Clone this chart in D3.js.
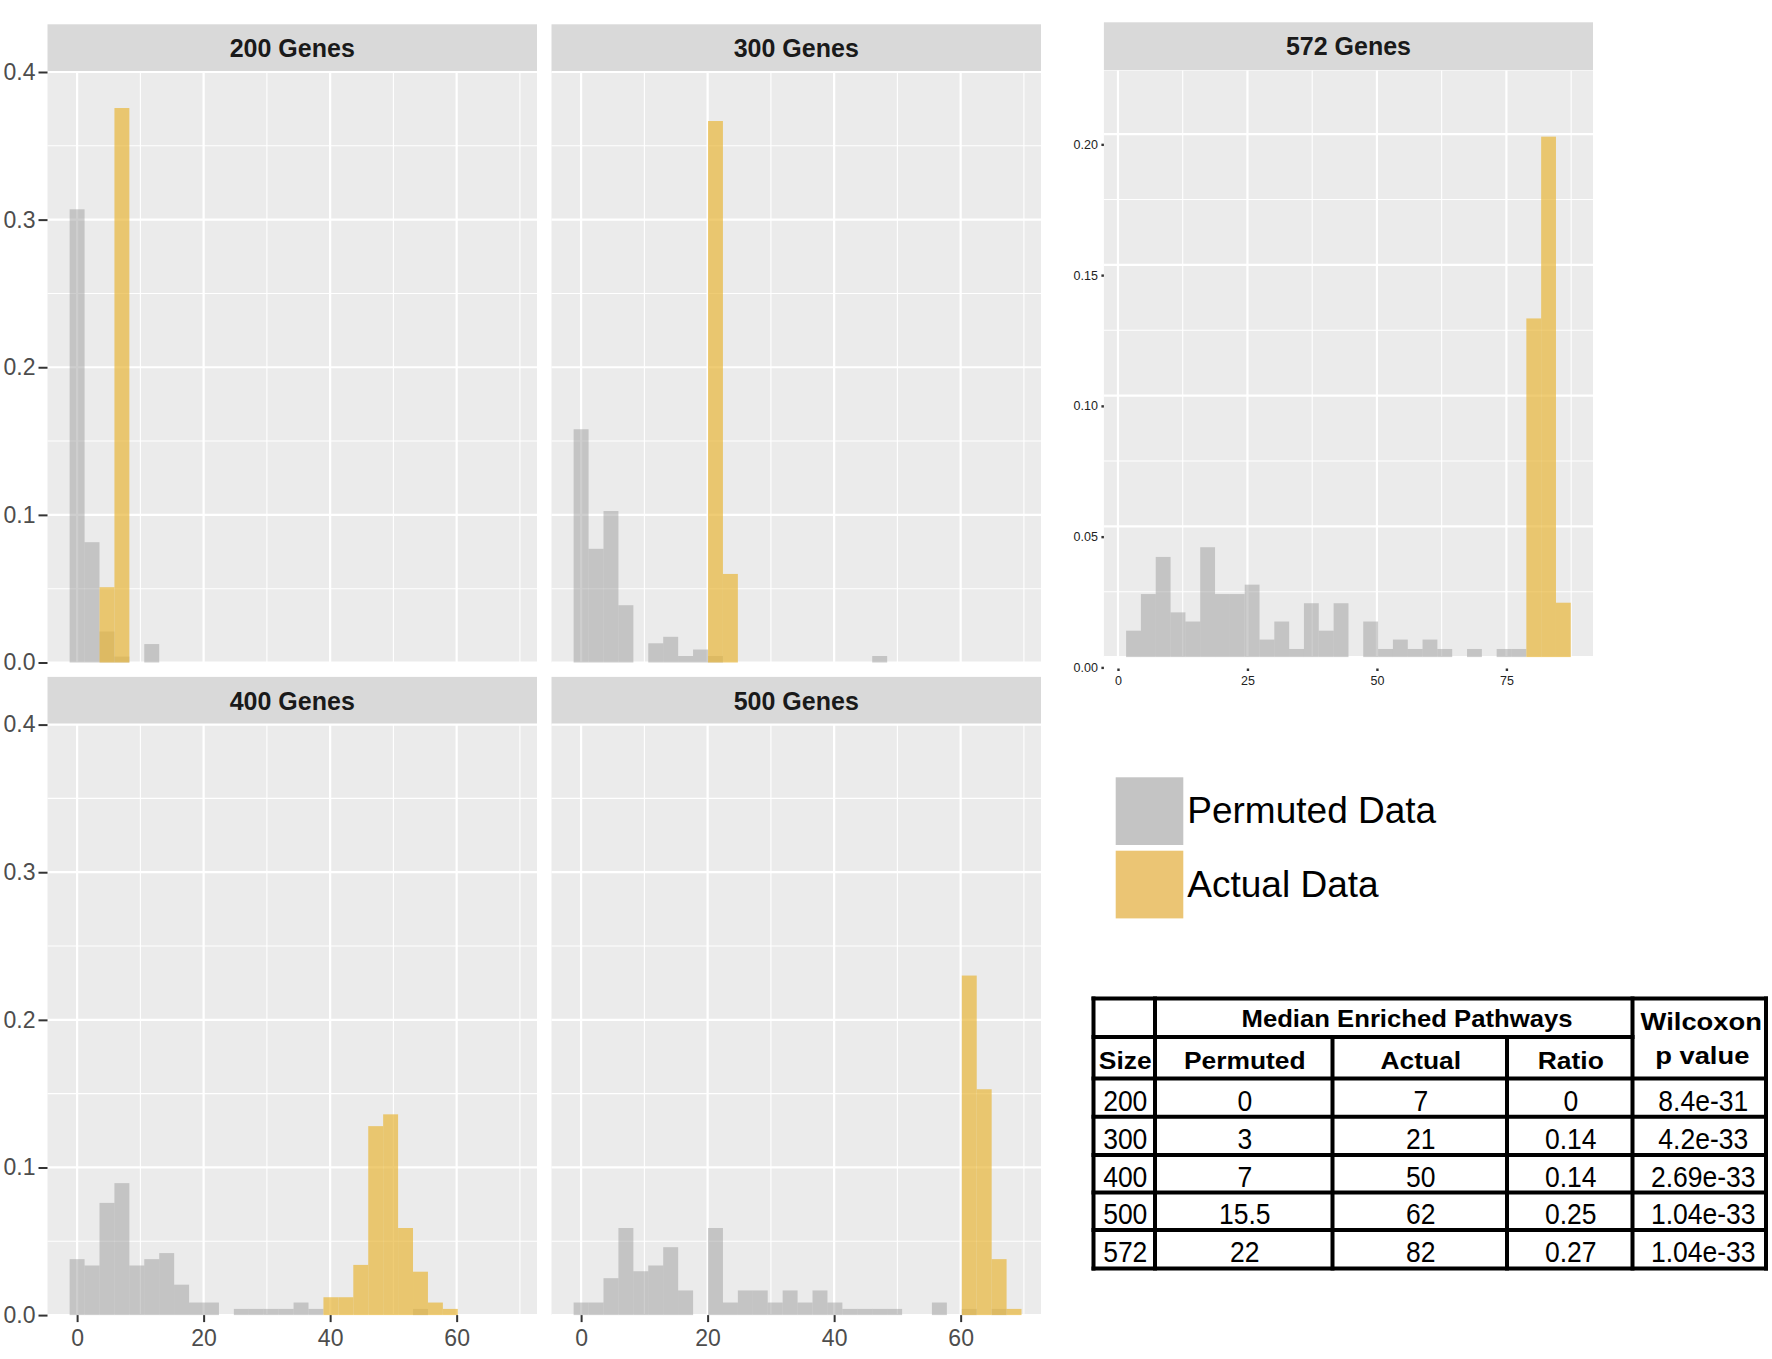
<!DOCTYPE html>
<html>
<head>
<meta charset="utf-8">
<script src="https://cdn.jsdelivr.net/npm/d3@7"></script>
<style>
  body { margin: 0; background: #fff; }
  text { font-family: "Liberation Sans", Arial, Helvetica, sans-serif; }
</style>
</head>
<body>
<svg id="chart"></svg>
<script>
// ---- data ----
const facetTitles = ["200 Genes", "300 Genes", "400 Genes", "500 Genes"];

// bin centres shared by the four facets (binwidth 2.36)
const binCenters = [0, 2.36, 4.72, 7.08, 9.44, 11.8, 14.16, 16.52, 18.88, 21.24,
  23.6, 25.96, 28.32, 30.68, 33.04, 35.4, 37.76, 40.12, 42.48, 44.84,
  47.2, 49.56, 51.92, 54.28, 56.64, 59, 61.36, 63.72, 66.08, 68.44];

const permuted200 = [0.307, 0.0815, 0.021, 0.004, 0, 0.0125, 0, 0, 0, 0,
  0, 0, 0, 0, 0, 0, 0, 0, 0, 0,
  0, 0, 0, 0, 0, 0, 0, 0, 0, 0];
const actual200 = [0, 0, 0.051, 0.3756, 0, 0, 0, 0, 0, 0,
  0, 0, 0, 0, 0, 0, 0, 0, 0, 0,
  0, 0, 0, 0, 0, 0, 0, 0, 0, 0];

const permuted300 = [0.158, 0.077, 0.1026, 0.0388, 0, 0.013, 0.0174, 0.0044, 0.0088, 0.0044,
  0, 0, 0, 0, 0, 0, 0, 0, 0, 0,
  0.0044, 0, 0, 0, 0, 0, 0, 0, 0, 0];
const actual300 = [0, 0, 0, 0, 0, 0, 0, 0, 0, 0.3668,
  0.06, 0, 0, 0, 0, 0, 0, 0, 0, 0,
  0, 0, 0, 0, 0, 0, 0, 0, 0, 0];

const permuted400 = [0.0379, 0.0336, 0.076, 0.0894, 0.0336, 0.0379, 0.042, 0.0206, 0.0085, 0.0085,
  0, 0.0042, 0.0042, 0.0042, 0.0042, 0.0085, 0.0042, 0, 0, 0,
  0, 0, 0, 0.0042, 0, 0, 0, 0, 0, 0];
const actual400 = [0, 0, 0, 0, 0, 0, 0, 0, 0, 0,
  0, 0, 0, 0, 0, 0, 0, 0.0121, 0.0121, 0.034,
  0.128, 0.136, 0.059, 0.0294, 0.0085, 0.0042, 0, 0, 0, 0];

const permuted500 = [0.0085, 0.0085, 0.025, 0.059, 0.0297, 0.0336, 0.046, 0.0167, 0, 0.059,
  0.0085, 0.0167, 0.0167, 0.0085, 0.0167, 0.0085, 0.0167, 0.0085, 0.0042, 0.0042,
  0.0042, 0.0042, 0, 0, 0.0085, 0, 0.0042, 0, 0.0042, 0];
const actual500 = [0, 0, 0, 0, 0, 0, 0, 0, 0, 0,
  0, 0, 0, 0, 0, 0, 0, 0, 0, 0,
  0, 0, 0, 0, 0, 0, 0.23, 0.153, 0.0379, 0.0042];

// separate 572 genes plot (binwidth 2.862)
const binCenters572 = [3, 5.86, 8.72, 11.59, 14.45, 17.31, 20.17, 23.03, 25.9, 28.76,
  31.62, 34.48, 37.34, 40.21, 43.07, 45.93, 48.79, 51.66, 54.52, 57.38,
  60.24, 63.1, 65.97, 68.83, 71.69, 74.55, 77.41, 80.28, 83.14, 86];
const permuted572 = [0.0101, 0.0241, 0.0383, 0.0171, 0.0136, 0.042, 0.0241, 0.0241, 0.0277, 0.0067,
  0.0136, 0.0031, 0.0206, 0.0101, 0.0206, 0, 0.0136, 0.0031, 0.0067, 0.0031,
  0.0067, 0.0031, 0, 0.0031, 0, 0.0031, 0.0031, 0, 0, 0];
const actual572 = [0, 0, 0, 0, 0, 0, 0, 0, 0, 0,
  0, 0, 0, 0, 0, 0, 0, 0, 0, 0,
  0, 0, 0, 0, 0, 0, 0, 0.1295, 0.199, 0.0208];

const facetPermuted = [permuted200, permuted300, permuted400, permuted500];
const facetActual = [actual200, actual300, actual400, actual500];

const legendLabels = ["Permuted Data", "Actual Data"];

// table
const tableSizes = ["200", "300", "400", "500", "572"];
const tablePermuted = ["0", "3", "7", "15.5", "22"];
const tableActual = ["7", "21", "50", "62", "82"];
const tableRatio = ["0", "0.14", "0.14", "0.25", "0.27"];
const tablePvalue = ["8.4e-31", "4.2e-33", "2.69e-33", "1.04e-33", "1.04e-33"];

// ---- drawing ----
const W = 1772, H = 1359;
const svg = d3.select("#chart").attr("width", W).attr("height", H);
svg.append("rect").attr("width", W).attr("height", H).attr("fill", "#fff");

const grayFill = "#9d9d9d", grayAlpha = 0.5;
const goldFill = "#e8b63a", goldAlpha = 0.7;

function drawPanel(g, xs, ys, bw, centers, perm, act, grid) {
  var w = xs.range()[1], h = ys.range()[0];
  g.append("rect").attr("width", w).attr("height", h).attr("fill", "#ebebeb");

  // grid lines, minor first
  g.selectAll(".ymin").data(grid.yMinor).enter().append("line")
    .attr("x1", 0).attr("x2", w).attr("y1", d => ys(d)).attr("y2", d => ys(d))
    .attr("stroke", "#fff").attr("stroke-width", 1.1);
  g.selectAll(".xmin").data(grid.xMinor).enter().append("line")
    .attr("y1", 0).attr("y2", h).attr("x1", d => xs(d)).attr("x2", d => xs(d))
    .attr("stroke", "#fff").attr("stroke-width", 1.1);
  g.selectAll(".ymaj").data(grid.yMajor).enter().append("line")
    .attr("x1", 0).attr("x2", w).attr("y1", d => ys(d)).attr("y2", d => ys(d))
    .attr("stroke", "#fff").attr("stroke-width", 2.2);
  g.selectAll(".xmaj").data(grid.xMajor).enter().append("line")
    .attr("y1", 0).attr("y2", h).attr("x1", d => xs(d)).attr("x2", d => xs(d))
    .attr("stroke", "#fff").attr("stroke-width", 2.2);

  var bars = (vals, fill, alpha) => {
    g.append("g").selectAll("rect")
      .data(vals.map((v, i) => ({ c: centers[i], v: v })).filter(d => d.v > 0))
      .enter().append("rect")
      .attr("x", d => xs(d.c - bw / 2))
      .attr("width", d => xs(d.c + bw / 2) - xs(d.c - bw / 2))
      .attr("y", d => ys(d.v))
      .attr("height", d => ys(0) - ys(d.v))
      .attr("fill", fill)
      .attr("fill-opacity", alpha)
  }
  bars(perm, grayFill, grayAlpha);
  bars(act, goldFill, goldAlpha);
}

function strip(g, w, title, top) {
  g.append("rect").attr("y", top).attr("width", w).attr("height", 47.7).attr("fill", "#d9d9d9");
  g.append("text").attr("x", w / 2).attr("y", top + 33)
    .attr("text-anchor", "middle")
    .style("font-size", "25px").style("font-weight", "bold")
    .attr("fill", "#1a1a1a")
    .text(title);
}

function styleAxis(ax, size, color, tickW) {
  ax.select(".domain").remove();
  ax.selectAll(".tick line").attr("stroke", "#333").attr("stroke-width", tickW);
  ax.selectAll(".tick text").style("font-size", size + "px").attr("fill", color)
    .style("font-family", '"Liberation Sans", Arial, Helvetica, sans-serif');
}

// facets
const facetX = [47.5, 551.5], facetW = 489.5;
const facetY = [72, 724.6], facetH = 590.5;

const x = d3.scaleLinear().domain([-4.68, 72.7]).range([0, facetW]);
const y = d3.scaleLinear().domain([0, 0.4]).range([facetH, 0]);
const facetGrid = {
  xMajor: [0, 20, 40, 60], xMinor: [10, 30, 50, 70],
  yMajor: [0, 0.1, 0.2, 0.3, 0.4], yMinor: [0.05, 0.15, 0.25, 0.35]
};

facetTitles.forEach((title, i) => {
  var col = i % 2, row = Math.floor(i / 2);
  var g = svg.append("g").attr("transform", `translate(${facetX[col]},${facetY[row]})`);
  strip(g, facetW, title, -47.7);
  drawPanel(g, x, y, 2.36, binCenters, facetPermuted[i], facetActual[i], facetGrid);

  if (col == 0) {
    var ay = g.append("g").call(d3.axisLeft(y).tickValues(facetGrid.yMajor)
      .tickFormat(d3.format(".1f")).tickSize(9).tickPadding(3));
    styleAxis(ay, 23, "#4d4d4d", 2);
  }
  if (row == 1) {
    var ax = g.append("g").attr("transform", `translate(0,${facetH})`)
      .call(d3.axisBottom(x).tickValues(facetGrid.xMajor).tickSize(7).tickPadding(7.5));
    styleAxis(ax, 23, "#4d4d4d", 2);
  }
});

// 572 genes plot
const x572 = d3.scaleLinear().domain([-2.72, 91.72]).range([0, 489.1]);
const y572 = d3.scaleLinear().domain([0, 0.2243]).range([586.6, 0]);
const grid572 = {
  xMajor: [0, 25, 50, 75], xMinor: [12.5, 37.5, 62.5, 87.5],
  yMajor: [0, 0.05, 0.1, 0.15, 0.2], yMinor: [0.025, 0.075, 0.125, 0.175]
};
var g572 = svg.append("g").attr("transform", "translate(1103.9,70.5)");
strip(g572, 489.1, "572 Genes", -48.2);
drawPanel(g572, x572, y572, 2.862, binCenters572, permuted572, actual572, grid572);
var ay572 = g572.append("g").attr("transform", "translate(0,10.3)")
  .call(d3.axisLeft(y572).tickValues(grid572.yMajor).tickFormat(d3.format(".2f"))
    .tickSize(2.5).tickPadding(3.5));
styleAxis(ay572, 12.5, "#222", 2.4);
var ax572 = g572.append("g").attr("transform", "translate(0,598)")
  .call(d3.axisBottom(x572).tickValues(grid572.xMajor).tickSize(2.5).tickPadding(5));
styleAxis(ax572, 12.5, "#222", 2.4);

// legend
const legendColors = ["#c4c4c4", "#ebc574"];
var leg = svg.append("g").attr("transform", "translate(1115.7,777.3)");
leg.selectAll("rect").data(legendLabels).enter().append("rect")
  .attr("x", 0).attr("y", (d, i) => i * 73.4)
  .attr("width", 67.6).attr("height", 67.7)
  .attr("fill", (d, i) => legendColors[i]);
leg.selectAll("text").data(legendLabels).enter().append("text")
  .attr("x", 71.6).attr("y", (d, i) => 46 + i * 73.4)
  .style("font-size", "37px").attr("fill", "#000")
  .text(d => d);

// table
const colEdges = [1093.5, 1155, 1332.5, 1507, 1632.5, 1766];
const rowEdges = [998.5, 1037, 1078.5, 1116.7, 1155, 1192.5, 1230, 1268.5];
var tb = svg.append("g");
var hline = (yy, x1, x2) => tb.append("line").attr("x1", x1).attr("x2", x2).attr("y1", yy).attr("y2", yy)
  .attr("stroke", "#000").attr("stroke-width", 4).attr("stroke-linecap", "square");
var vline = (xx, y1, y2) => tb.append("line").attr("x1", xx).attr("x2", xx).attr("y1", y1).attr("y2", y2)
  .attr("stroke", "#000").attr("stroke-width", 4).attr("stroke-linecap", "square");

rowEdges.forEach((r, i) => {
  if (i == 1) hline(r, colEdges[0], colEdges[4]);
  else hline(r, colEdges[0], colEdges[5]);
});
colEdges.forEach((c, i) => {
  if (i == 2 || i == 3) vline(c, rowEdges[1], rowEdges[7]);
  else vline(c, rowEdges[0], rowEdges[7]);
});

var colMid = i => (colEdges[i] + colEdges[i + 1]) / 2;
// header text is drawn wide, body text tall, as in the source table
var headText = (tx, ty, s, sx) => tb.append("text")
  .attr("transform", `translate(${tx},${ty}) scale(${sx},1)`)
  .attr("text-anchor", "middle").style("font-size", "24px")
  .style("font-weight", "bold").attr("fill", "#000").text(s);
var bodyText = (tx, ty, s) => tb.append("text")
  .attr("transform", `translate(${tx},${ty}) scale(1,1.13)`)
  .attr("text-anchor", "middle").style("font-size", "26.5px")
  .attr("fill", "#000").text(s);

headText(1407, 1027, "Median Enriched Pathways", 1.07);
headText(colMid(4) + 2, 1030, "Wilcoxon", 1.14);
headText(colMid(4) + 3, 1063.5, "p value", 1.14);
["Size", "Permuted", "Actual", "Ratio"].forEach((s, i) => headText(colMid(i) + 1, 1069.3, s, 1.1));

const tableCols = [tableSizes, tablePermuted, tableActual, tableRatio, tablePvalue];
tableCols.forEach((col, ci) => {
  col.forEach((s, ri) => {
    var cy = (rowEdges[ri + 2] + rowEdges[ri + 3]) / 2;
    bodyText(colMid(ci) + (ci == 4 ? 4 : 1), cy + 13, s);
  });
});
</script>
</body>
</html>
